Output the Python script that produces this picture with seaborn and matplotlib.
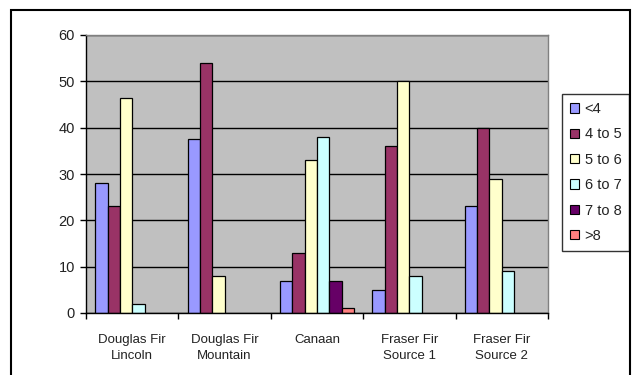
import matplotlib
matplotlib.use("Agg")
import matplotlib.pyplot as plt
from matplotlib.patches import Rectangle
from matplotlib.ticker import FixedLocator
import numpy as np
import pandas as pd
import seaborn as sns

categories = ["Douglas Fir\nLincoln", "Douglas Fir\nMountain", "Canaan",
              "Fraser Fir\nSource 1", "Fraser Fir\nSource 2"]
size_classes = ["<4", "4 to 5", "5 to 6", "6 to 7", "7 to 8", ">8"]

lt4 = [28, 37.5, 7, 5, 23]
s4_5 = [23, 54, 13, 36, 40]
s5_6 = [46.5, 8, 33, 50, 29]
s6_7 = [2, None, 38, 8, 9]
s7_8 = [None, None, 7, None, None]
gt8 = [None, None, 1, None, None]

colors = ["#9999FF", "#993366", "#FFFFCC", "#CCFFFF", "#660066", "#FF8080"]

series = [lt4, s4_5, s5_6, s6_7, s7_8, gt8]
rows = []
for name, vals in zip(size_classes, series):
    for cat, v in zip(categories, vals):
        if v is not None:
            rows.append({"site": cat, "size": name, "count": v})
df = pd.DataFrame(rows)

sns.set_theme(style="white")
plt.rcParams["font.family"] = ["Liberation Sans", "DejaVu Sans"]

fig = plt.figure(figsize=(6.32, 3.75), dpi=100)
ax = fig.add_axes([86 / 632, 1 - 313 / 375, (548 - 86) / 632, (313 - 35) / 375])

sns.barplot(data=df, x="site", y="count", hue="size",
            order=categories, hue_order=size_classes, palette=colors,
            width=0.8, edgecolor="black", linewidth=0.9, saturation=1,
            ax=ax, legend=True)

ax.set_facecolor("#C0C0C0")
ax.set_xlim(-0.5, 4.5)
ax.set_ylim(0, 60)
ax.set_yticks(range(0, 61, 10))
ax.yaxis.grid(True, color="black", linewidth=1.0)
ax.set_axisbelow(True)
ax.set_xlabel("")
ax.set_ylabel("")

for side in ["left", "bottom"]:
    ax.spines[side].set_color("black")
    ax.spines[side].set_linewidth(1.0)
for side in ["top", "right"]:
    ax.spines[side].set_color("#808080")
    ax.spines[side].set_linewidth(1.0)

ax.tick_params(axis="y", which="major", left=True, length=4, width=1,
               color="black", labelsize=10.5, pad=4, labelcolor="#222222")
ax.tick_params(axis="x", which="major", bottom=False, labelsize=9.5, pad=9,
               labelcolor="#222222")
ax.xaxis.set_minor_locator(FixedLocator(np.arange(-0.5, 5, 1.0)))
ax.tick_params(axis="x", which="minor", bottom=True, length=4, width=1,
               color="black")
for lbl in ax.get_xticklabels():
    lbl.set_linespacing(1.45)

leg = ax.legend(loc="upper left", bbox_to_anchor=(562 / 632, 1 - 94 / 375),
                bbox_transform=fig.transFigure, frameon=True, fancybox=False,
                edgecolor="black", fontsize=10.5, handlelength=0.6,
                handleheight=0.6, handletextpad=0.4, labelspacing=0.78,
                borderpad=0.55, borderaxespad=0)
leg.get_frame().set_linewidth(1.0)
for t in leg.get_texts():
    t.set_color("#222222")
for h in leg.legend_handles:
    h.set_edgecolor("black")
    h.set_linewidth(0.8)

fig.patches.append(Rectangle((11 / 632, -0.1), (630 - 11) / 632, 1.1 - 9.5 / 375,
                             transform=fig.transFigure, fill=False,
                             edgecolor="black", linewidth=1.5))

fig.savefig("out.png", dpi=100)
